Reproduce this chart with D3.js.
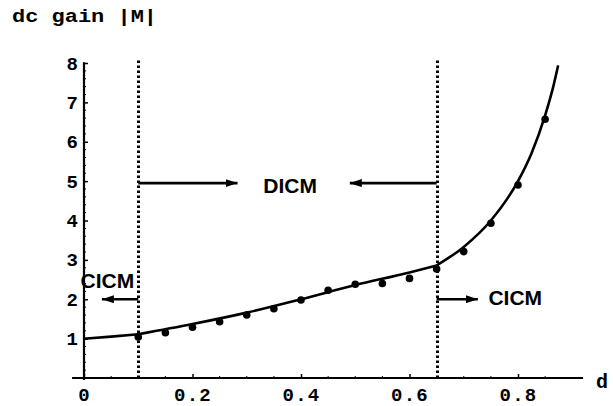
<!DOCTYPE html>
<html>
<head>
<meta charset="utf-8">
<script src="https://cdn.jsdelivr.net/npm/d3@7"></script>
<style>
  body { margin: 0; background: #fff; }
  .tick text { font-family: "Liberation Mono", "DejaVu Sans Mono", monospace; font-weight: bold; }
</style>
</head>
<body>
<div class="dc-gain-container"></div>
<script>
// Data.
const xTicks = [0, 0.2, 0.4, 0.6, 0.8];
const xTickLabels = ["0", "0.2", "0.4", "0.6", "0.8"];
const yTicks = [1, 2, 3, 4, 5, 6, 7, 8];
const yTickLabels = ["1", "2", "3", "4", "5", "6", "7", "8"];

// Analytic curve, three pieces (CICM / DICM / CICM).
const cicmLowD = [0, 0.05, 0.1];
const cicmLowM = [1.0, 1.05, 1.11];
const dicmD = [0.1, 0.2, 0.3, 0.4, 0.5, 0.6, 0.65];
const dicmM = [1.11, 1.37, 1.66, 2.0, 2.36, 2.68, 2.86];
const cicmHighD = [0.65, 0.7, 0.75, 0.8, 0.825, 0.85, 0.865, 0.874];
const cicmHighM = [2.86, 3.33, 4.0, 5.0, 5.71, 6.67, 7.4, 7.94];

// Simulated points.
const simD = [0.1, 0.15, 0.2, 0.25, 0.3, 0.35, 0.4, 0.45, 0.5, 0.55, 0.6, 0.65, 0.7, 0.75, 0.8, 0.85];
const simM = [1.04, 1.15, 1.29, 1.43, 1.6, 1.76, 1.98, 2.23, 2.38, 2.4, 2.53, 2.77, 3.21, 3.93, 4.9, 6.57];

// Mode boundaries.
const boundaries = [0.1, 0.65];

function zip(xs, ys) {
  return xs.map((x, i) => ({ d: x, m: ys[i] }));
}

// Margin convention.
const width = 613;
const height = 406;

const svg = d3
  .select(".dc-gain-container")
  .append("svg")
  .attr("width", width)
  .attr("height", height);

// Scales.
const xScale = d3.scaleLinear().domain([0, 0.8]).range([84, 518]);
const yScale = d3.scaleLinear().domain([0, 8]).range([378, 63]);

const monoFont = '"Liberation Mono", "DejaVu Sans Mono", monospace';
const sansFont = '"Liberation Sans", Arial, sans-serif';

// Draw header.
svg
  .append("text")
  .attr("x", 12)
  .attr("y", 22)
  .attr("font-family", monoFont)
  .attr("font-weight", "bold")
  .attr("font-size", 19)
  .attr("textLength", 145)
  .attr("lengthAdjust", "spacingAndGlyphs")
  .text("dc gain |M|");

// Draw axes.
const xAxis = d3
  .axisBottom(xScale)
  .tickValues(xTicks)
  .tickFormat((d, i) => xTickLabels[i])
  .tickSizeInner(-4)
  .tickSizeOuter(0)
  .tickPadding(10);

const xAxisDraw = svg
  .append("g")
  .attr("class", "x axis")
  .attr("transform", `translate(0, ${yScale(0)})`)
  .call(xAxis);
xAxisDraw.select(".domain").remove();
xAxisDraw.selectAll("line").attr("stroke-width", 1.5);
xAxisDraw
  .selectAll("text")
  .attr("font-size", 19)
  .attr("letter-spacing", 1.2)
  .attr("fill", "#000");

const yAxis = d3
  .axisLeft(yScale)
  .tickValues(yTicks)
  .tickFormat((d, i) => yTickLabels[i])
  .tickSizeInner(-4)
  .tickSizeOuter(0)
  .tickPadding(6);

const yAxisDraw = svg
  .append("g")
  .attr("class", "y axis")
  .attr("transform", `translate(${xScale(0)}, 0)`)
  .call(yAxis);
yAxisDraw.select(".domain").remove();
yAxisDraw.selectAll("line").attr("stroke-width", 1.5);
yAxisDraw
  .selectAll("text")
  .attr("font-size", 19)
  .attr("fill", "#000");

// minor ticks
const minorX = d3.range(0.05, 0.9, 0.05).filter((v) => Math.abs(v * 5 - Math.round(v * 5)) > 1e-6);
svg
  .append("g")
  .selectAll("line")
  .data(minorX)
  .enter()
  .append("line")
  .attr("x1", (d) => xScale(d))
  .attr("x2", (d) => xScale(d))
  .attr("y1", yScale(0))
  .attr("y2", yScale(0) - 2)
  .attr("stroke", "black");

const minorY = d3.range(0.2, 8, 0.2).filter((v) => Math.abs(v - Math.round(v)) > 1e-6);
svg
  .append("g")
  .selectAll("line")
  .data(minorY)
  .enter()
  .append("line")
  .attr("x1", xScale(0))
  .attr("x2", xScale(0) + 2)
  .attr("y1", (d) => yScale(d))
  .attr("y2", (d) => yScale(d))
  .attr("stroke", "black");

// axis lines
svg
  .append("line")
  .attr("x1", xScale(-0.022))
  .attr("x2", xScale(0.92))
  .attr("y1", yScale(0))
  .attr("y2", yScale(0))
  .attr("stroke", "black")
  .attr("stroke-width", 2.2);

svg
  .append("line")
  .attr("x1", xScale(0))
  .attr("x2", xScale(0))
  .attr("y1", yScale(-0.05))
  .attr("y2", yScale(8.02))
  .attr("stroke", "black")
  .attr("stroke-width", 2.2);

svg
  .append("text")
  .attr("x", 596)
  .attr("y", 388)
  .attr("font-family", monoFont)
  .attr("font-weight", "bold")
  .attr("font-size", 20)
  .text("d");

// Mode boundaries.
svg
  .append("g")
  .selectAll("line")
  .data(boundaries)
  .enter()
  .append("line")
  .attr("x1", (d) => Math.round(xScale(d)) + 0.5)
  .attr("x2", (d) => Math.round(xScale(d)) + 0.5)
  .attr("y1", yScale(0))
  .attr("y2", yScale(8.07))
  .attr("stroke", "black")
  .attr("stroke-width", 3)
  .attr("stroke-dasharray", "2.5,2.5");

// Draw curve.
const line = d3
  .line()
  .x((d) => xScale(d.d))
  .y((d) => yScale(d.m))
  .curve(d3.curveMonotoneX);

[zip(cicmLowD, cicmLowM), zip(dicmD, dicmM), zip(cicmHighD, cicmHighM)].forEach((seg) => {
  svg
    .append("path")
    .datum(seg)
    .attr("d", line)
    .attr("fill", "none")
    .attr("stroke", "black")
    .attr("stroke-width", 2.6)
    .attr("stroke-linejoin", "round");
});

// Draw points.
svg
  .append("g")
  .attr("class", "sim-points")
  .selectAll("circle")
  .data(zip(simD, simM))
  .enter()
  .append("circle")
  .attr("cx", (d) => xScale(d.d))
  .attr("cy", (d) => yScale(d.m))
  .attr("r", 3.8)
  .style("fill", "black");

// Draw Annotations
const annots = svg.append("g").attr("class", "annotations");

annots
  .append("defs")
  .append("marker")
  .attr("id", "head")
  .attr("viewBox", "0 0 12 8")
  .attr("refX", 12)
  .attr("refY", 4)
  .attr("markerWidth", 12)
  .attr("markerHeight", 8)
  .attr("markerUnits", "userSpaceOnUse")
  .attr("orient", "auto")
  .append("path")
  .attr("d", "M 0 0 L 12 4 L 0 8 Z")
  .style("fill", "black");

const arrows = [
  { from: 0.1, to: 0.033, m: 2.0 },
  { from: 0.1, to: 0.283, m: 4.95 },
  { from: 0.65, to: 0.49, m: 4.95 },
  { from: 0.65, to: 0.726, m: 2.0 },
];

annots
  .selectAll(".arrow")
  .data(arrows)
  .enter()
  .append("line")
  .attr("class", "arrow")
  .attr("x1", (d) => xScale(d.from))
  .attr("x2", (d) => xScale(d.to))
  .attr("y1", (d) => yScale(d.m))
  .attr("y2", (d) => yScale(d.m))
  .attr("stroke", "black")
  .attr("stroke-width", 2.6)
  .attr("marker-end", "url(#head)");

const labels = [
  { text: "DICM", d: 0.38, m: 4.7 },
  { text: "CICM", d: 0.043, m: 2.28 },
  { text: "CICM", d: 0.795, m: 1.85 },
];

annots
  .selectAll(".mode-label")
  .data(labels)
  .enter()
  .append("text")
  .attr("class", "mode-label")
  .attr("x", (d) => xScale(d.d))
  .attr("y", (d) => yScale(d.m))
  .attr("text-anchor", "middle")
  .attr("font-family", sansFont)
  .attr("font-weight", "bold")
  .attr("font-size", 21)
  .text((d) => d.text);
</script>
</body>
</html>
